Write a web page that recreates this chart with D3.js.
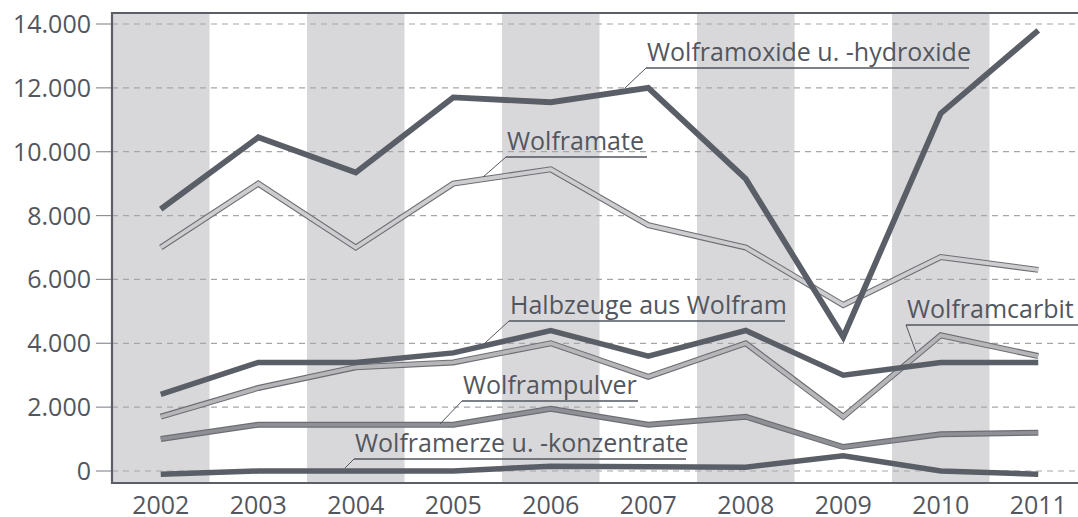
<!DOCTYPE html>
<html><head><meta charset="utf-8">
<script src="https://cdn.jsdelivr.net/npm/d3@7"></script>
<style>body{margin:0;background:#fff}svg{display:block}text{font-family:"Open Sans",sans-serif}</style>
</head><body><svg id="c" width="1078" height="517"></svg>
<script>
const years = [2002,2003,2004,2005,2006,2007,2008,2009,2010,2011];
const yTicks = [0,2000,4000,6000,8000,10000,12000,14000];
const wolframoxide = [8200,10450,9350,11700,11550,12000,9150,4200,11200,13800];
const wolframate   = [7000,9000,7000,9000,9450,7700,7000,5200,6700,6300];
const halbzeuge    = [2400,3400,3400,3700,4400,3600,4400,3000,3400,3400];
const wolframcarbit= [1700,2600,3250,3400,4000,2950,4000,1700,4250,3600];
const wolframpulver= [1000,1450,1450,1450,1950,1450,1700,750,1150,1200];
const wolframerze  = [-100,0,0,0,150,130,120,480,0,-100];
const labels = ["Wolframoxide u. -hydroxide","Wolframate","Halbzeuge aus Wolfram","Wolframcarbit","Wolframpulver","Wolframerze u. -konzentrate"];

const svg = d3.select("#c");
const dark = "#5a5e66", textC = "#52565e";
const x = d3.scaleBand().domain(years).range([112, 1087]).padding(0);
const cx = d => x(d) + x.bandwidth()/2;
const y = d3.scaleLinear().domain([0,14000]).range([471, 24]);

// alternating bands
svg.append("g").selectAll("rect").data(years.filter((d,i)=>i%2===0)).join("rect")
  .attr("x", d=>x(d)).attr("y",12).attr("width",x.bandwidth()).attr("height",471)
  .attr("fill","#d8d8da");

// grid
const fmt = v => d3.format(",")(v).replace(/,/g,".");
const gy = svg.append("g");
gy.selectAll("line.g").data(yTicks).join("line").attr("class","g")
  .attr("x1",112).attr("x2",1078).attr("y1",d=>y(d)).attr("y2",d=>y(d))
  .attr("stroke","#a6a6a8").attr("stroke-width",1.2).attr("stroke-dasharray","6,5");
gy.selectAll("line.t").data(yTicks).join("line").attr("class","t")
  .attr("x1",96).attr("x2",112).attr("y1",d=>y(d)).attr("y2",d=>y(d))
  .attr("stroke","#8e9096").attr("stroke-width",1.2);
gy.selectAll("text").data(yTicks).join("text")
  .attr("x",91).attr("y",d=>y(d)).attr("dy","0.36em").attr("text-anchor","end")
  .attr("font-size",25).attr("fill",textC).text(fmt);

// x labels
svg.append("g").selectAll("text").data(years).join("text")
  .attr("x",cx).attr("y",514).attr("text-anchor","middle")
  .attr("font-size",25).attr("fill",textC).text(d=>d);

// frame
svg.append("line").attr("x1",112).attr("x2",1078).attr("y1",13).attr("y2",13).attr("stroke",dark).attr("stroke-width",2.2);
svg.append("line").attr("x1",112).attr("x2",1078).attr("y1",483).attr("y2",483).attr("stroke",dark).attr("stroke-width",2.2);
svg.append("line").attr("x1",112).attr("x2",112).attr("y1",12).attr("y2",484).attr("stroke",dark).attr("stroke-width",2.2);

const line = d3.line().x((d,i)=>cx(years[i])).y(d=>y(d));
const series = [
  {v:wolframerze, layers:[[dark,5.5]]},
  {v:wolframpulver, layers:[["#6c6e74",6],["#8e9096",3.6]]},
  {v:wolframcarbit, layers:[["#6c6e74",6],["#b6b6b9",3.8]]},
  {v:halbzeuge, layers:[[dark,5.5]]},
  {v:wolframate, layers:[["#6c6e74",6],["#cdcdcf",3.8]]},
  {v:wolframoxide, layers:[[dark,5.8]]}
];
const gl = svg.append("g");
series.forEach(s=>{
  s.layers.forEach(([c,w])=>{
    gl.append("path").attr("d",line(s.v)).attr("fill","none").attr("stroke",c)
      .attr("stroke-width",w).attr("stroke-linejoin","miter");
  });
});

// callouts: [label, textX, baselineY, underlineEndX, leaderEndX, leaderEndY]
const callouts = [
  [labels[0], 647, 61, 969, 625, 88],
  [labels[1], 507, 150, 647, 483, 177],
  [labels[2], 510, 314, 785, 485, 343],
  [labels[3], 907, 318, 1078, 916, 352],
  [labels[4], 463, 394, 638, 440, 424],
  [labels[5], 355, 452, 686, 345, 468]
];
const gc = svg.append("g");
callouts.forEach(([t,tx,by,ux,lx,ly])=>{
  gc.append("text").attr("x",tx).attr("y",by).attr("font-size",25).attr("fill",textC).text(t);
  const uy = by+7;
  gc.append("line").attr("x1",tx-1).attr("x2",ux).attr("y1",uy).attr("y2",uy).attr("stroke",textC).attr("stroke-width",1.5);
  gc.append("line").attr("x1",tx-1).attr("x2",lx).attr("y1",uy).attr("y2",ly).attr("stroke",textC).attr("stroke-width",1);
});
</script></body></html>
